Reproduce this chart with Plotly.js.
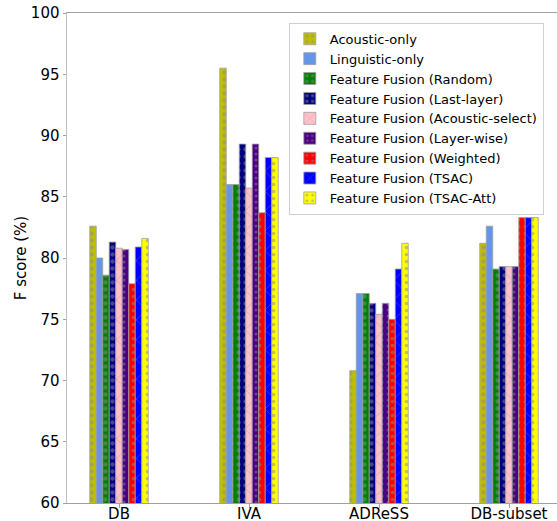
<!DOCTYPE html>
<html>
<head>
<meta charset="utf-8">
<script src="https://cdn.plot.ly/plotly-3.0.1.min.js"></script>
<style>
html, body { margin: 0; padding: 0; overflow: hidden; background: #fff; }
#chart { width: 600px; height: 521px; }
</style>
</head>
<body>
<div id="chart"></div>
<script>
const categories = ["DB", "IVA", "ADReSS", "DB-subset"];
const seriesNames = [
  "Acoustic-only",
  "Linguistic-only",
  "Feature Fusion (Random)",
  "Feature Fusion (Last-layer)",
  "Feature Fusion (Acoustic-select)",
  "Feature Fusion (Layer-wise)",
  "Feature Fusion (Weighted)",
  "Feature Fusion (TSAC)",
  "Feature Fusion (TSAC-Att)"
];
const acousticOnly      = [82.6, 95.5, 70.8, 81.2];
const linguisticOnly    = [80.0, 86.0, 77.1, 82.6];
const ffRandom          = [78.6, 86.0, 77.1, 79.1];
const ffLastLayer       = [81.3, 89.3, 76.3, 79.3];
const ffAcousticSelect  = [80.8, 85.7, 75.4, 79.3];
const ffLayerWise       = [80.7, 89.3, 76.3, 79.3];
const ffWeighted        = [77.9, 83.7, 75.0, 83.3];
const ffTSAC            = [80.9, 88.2, 79.1, 83.3];
const ffTSACAtt         = [81.6, 88.2, 81.2, 83.3];
const yTicks = [60, 65, 70, 75, 80, 85, 90, 95, 100];

const seriesValues = [acousticOnly, linguisticOnly, ffRandom, ffLastLayer,
  ffAcousticSelect, ffLayerWise, ffWeighted, ffTSAC, ffTSACAtt];
const colors = ["#bfbf00", "#6495ED", "#008000", "#000080", "#FFC0CB",
  "#4B0082", "#FF0000", "#0000FF", "#FFFF00"];
const shapes = [".", "x", ".", ".", "x", ".", ".", "x", "."];
const sizes  = [7, 14, 7, 7, 14, 6, 7, 14, 7];
const solid  = [0.3, 0.1, 0.3, 0.3, 0.1, 0.2, 0.22, 0.1, 0.22];

const traces = seriesNames.map((name, i) => ({
  type: "bar",
  name: name,
  x: categories,
  y: seriesValues[i],
  marker: {
    color: colors[i],
    line: { color: "#a0a0a0", width: 0.8 },
    pattern: { shape: shapes[i], fgcolor: "#8c8c8c", bgcolor: colors[i],
               size: sizes[i], solidity: solid[i], fillmode: "overlay" }
  },
  hoverinfo: "name+y"
}));

const layout = {
  width: 600,
  height: 521,
  margin: { l: 67, r: 39, t: 13, b: 18 },
  paper_bgcolor: "#fff",
  plot_bgcolor: "#fff",
  font: { family: "DejaVu Sans, sans-serif", size: 15, color: "#000" },
  barmode: "group",
  bargap: 0.55,
  bargroupgap: 0,
  showlegend: true,
  legend: {
    x: 0.449, y: 0.98, xanchor: "left", yanchor: "top",
    bgcolor: "rgba(255,255,255,0.9)", bordercolor: "#d0d0d0", borderwidth: 1,
    font: { size: 13, family: "DejaVu Sans, sans-serif", color: "#000" },
    tracegroupgap: 0
  },
  xaxis: {
    type: "category",
    range: [-0.4, 3.4],
    showline: true, linecolor: "#a0a0a0", linewidth: 1, mirror: true,
    ticks: "outside", ticklen: 3.5, tickcolor: "#a0a0a0",
    ticklabelstandoff: -7,
    showgrid: false, zeroline: false,
    tickfont: { size: 15 }
  },
  yaxis: {
    range: [60, 100],
    tickvals: yTicks,
    ticktext: yTicks.map(String),
    showline: true, linecolor: "#c0c0c0", linewidth: 1, mirror: true,
    ticks: "outside", ticklen: 3.5, tickcolor: "#a0a0a0",
    showgrid: false, zeroline: false,
    tickfont: { size: 15 },
    title: { text: "F score (%)", font: { size: 15 }, standoff: 0 }
  }
};

Plotly.newPlot("chart", traces, layout, { displayModeBar: false, staticPlot: true });
</script>
</body>
</html>
